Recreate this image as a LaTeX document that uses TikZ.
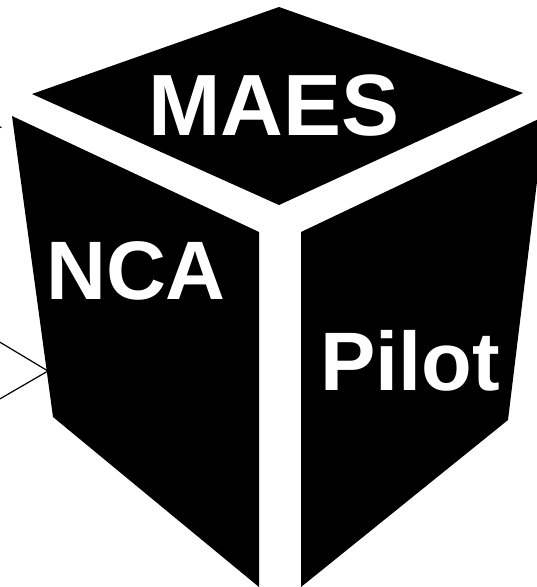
\documentclass[tikz,border=0pt]{standalone}
\usepackage{fontspec}
\setmainfont{Liberation Sans}
\begin{document}
\begin{tikzpicture}[x=1pt,y=-1pt,
  face/.style={fill=black,draw=none},
  lbl/.style={text=white,font=\bfseries,inner sep=0pt,anchor=base},
  conn/.style={draw=black,line width=1.2pt}]
\useasboundingbox (0,0) rectangle (537,587);
\clip (0,0) rectangle (537,587);
% top face
\fill[face] (32,94) -- (279,7) -- (523,93) -- (279,205) -- cycle;
% left face
\fill[face] (12,116) -- (259,232) -- (259,587) -- (53,417) -- cycle;
% right face
\fill[face] (301,232) -- (545,116) -- (508,420) -- (301,587) -- cycle;
% labels
\node[lbl,font=\fontsize{87}{87}\bfseries\selectfont] (maes) at (274,135) {MAES};
\node[lbl,font=\fontsize{83}{83}\bfseries\selectfont] (nca) at (136,299) {NCA};
\node[lbl,font=\fontsize{83}{83}\bfseries\selectfont] (pilot) at (410,390) {Pilot};
% connectors
\coordinate (tip) at (48,371);
\coordinate (a) at (-2,341);
\coordinate (b) at (-2,400);
\coordinate (c) at (-3,126);
\coordinate (d) at (1.5,127.5);
\draw[conn] (a) -- (tip) -- (b);
\draw[conn] (c) -- (d);
\end{tikzpicture}
\end{document}
